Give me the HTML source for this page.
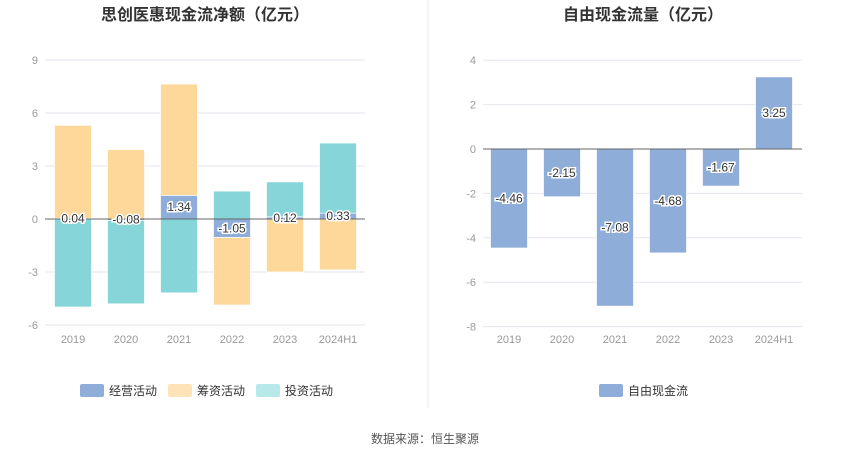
<!DOCTYPE html>
<html><head><meta charset="utf-8"><style>
body{margin:0;background:#fff;width:850px;height:459px;overflow:hidden;font-family:"Liberation Sans","Noto Sans CJK SC",sans-serif}
svg text{font-family:"Liberation Sans","Noto Sans CJK SC",sans-serif}
</style></head><body>
<svg id="c" width="850" height="459"></svg>
<script>
const cats=['2019','2020','2021','2022','2023','2024H1'];
const opVals=[0.04,-0.08,1.34,-1.05,0.12,0.33];
const finVals=[5.26,3.93,6.3,-3.82,-3.0,-2.88];
const invVals=[-4.98,-4.72,-4.18,1.58,1.98,3.97];
const leftTicks=[9,6,3,0,-3,-6];
const fcfVals=[-4.46,-2.15,-7.08,-4.68,-1.67,3.25];
const rightTicks=[4,2,0,-2,-4,-6,-8];
const NS='http://www.w3.org/2000/svg';
const svg=document.getElementById('c');
function mk(t,a,txt){const e=document.createElementNS(NS,t);for(const k in a)e.setAttribute(k,a[k]);if(txt!==undefined)e.textContent=txt;svg.appendChild(e);return e;}
const ly=v=>219-v*17.67, lx=i=>73+i*53;
const ry=v=>149-v*22.2, rx=i=>509+i*53;
function grid(ticks,yf,x0,x1,gname){ticks.forEach(t=>{if(t!==0){const l=mk('line',{x1:x0,x2:x1,y1:yf(t),y2:yf(t),stroke:'#e6e6ee'});}
const tx=mk('text',{x:x0-7,y:yf(t)+4,'text-anchor':'end','font-size':11,fill:'#999'},t);});}
grid(leftTicks,ly,45,365,'left');
grid(rightTicks,ry,483,802,'right');
const W=37;
function bar(x,y0,y1,col,name){const r=mk('rect',{x:x-W/2,y:Math.min(y0,y1),width:W,height:Math.abs(y1-y0),fill:col,stroke:'#fff','stroke-width':0.7});}
cats.forEach((c,i)=>{
  let pos=0,neg=0;
  [[opVals,'#8fadd9','operating'],[finVals,'#fed89a','financing'],[invVals,'#86d5d8','investing']].forEach(([arr,col,n])=>{
    const v=arr[i];
    if(v>=0){bar(lx(i),ly(pos),ly(pos+v),col,'bar-'+n+'-'+c);pos+=v;}
    else{bar(lx(i),ly(neg),ly(neg+v),col,'bar-'+n+'-'+c);neg+=v;}
  });
  const t=mk('text',{x:lx(i),y:343,'text-anchor':'middle','font-size':11,fill:'#999'},c);
  bar(rx(i),ry(0),ry(fcfVals[i]),'#8fadd9','bar-fcf-'+c);
  const t2=mk('text',{x:rx(i),y:343,'text-anchor':'middle','font-size':11,fill:'#999'},c);
});
let a=mk('line',{x1:45,x2:365,y1:ly(0),y2:ly(0),stroke:'#666'});
a=mk('line',{x1:483,x2:802,y1:ry(0),y2:ry(0),stroke:'#666'});
function lab(x,y,s,n){const t=mk('text',{x:x,y:y,'text-anchor':'middle','font-size':12,fill:'#333',stroke:'#fff','stroke-width':3,'paint-order':'stroke'},s);}
cats.forEach((c,i)=>{
  lab(lx(i),ly(opVals[i]/2)+4,opVals[i].toFixed(2),'op-value-label');
  lab(rx(i),ry(fcfVals[i]/2)+4,fcfVals[i].toFixed(2),'fcf-value-label');
});
let t=mk('text',{x:205,y:20,'text-anchor':'middle','font-size':16,'font-weight':'bold',fill:'#333'},'思创医惠现金流净额（亿元）');
t=mk('text',{x:643,y:20,'text-anchor':'middle','font-size':16,'font-weight':'bold',fill:'#333'},'自由现金流量（亿元）');
a=mk('line',{x1:428,x2:428,y1:0,y2:408,stroke:'#eee'});
function leg(x,col,s,n){const r=mk('rect',{x:x,y:384,width:24,height:13,rx:2,fill:col});
const tt=mk('text',{x:x+29,y:395,'font-size':12,fill:'#333'},s);}
leg(80,'#8fadd9','经营活动','legend-operating');
leg(168,'#fee3b8','筹资活动','legend-financing');
leg(256,'#b7e8ea','投资活动','legend-investing');
leg(599,'#8fadd9','自由现金流','legend-fcf');
t=mk('text',{x:425,y:443,'text-anchor':'middle','font-size':12,fill:'#555'},'数据来源：恒生聚源');
</script>
</body></html>
